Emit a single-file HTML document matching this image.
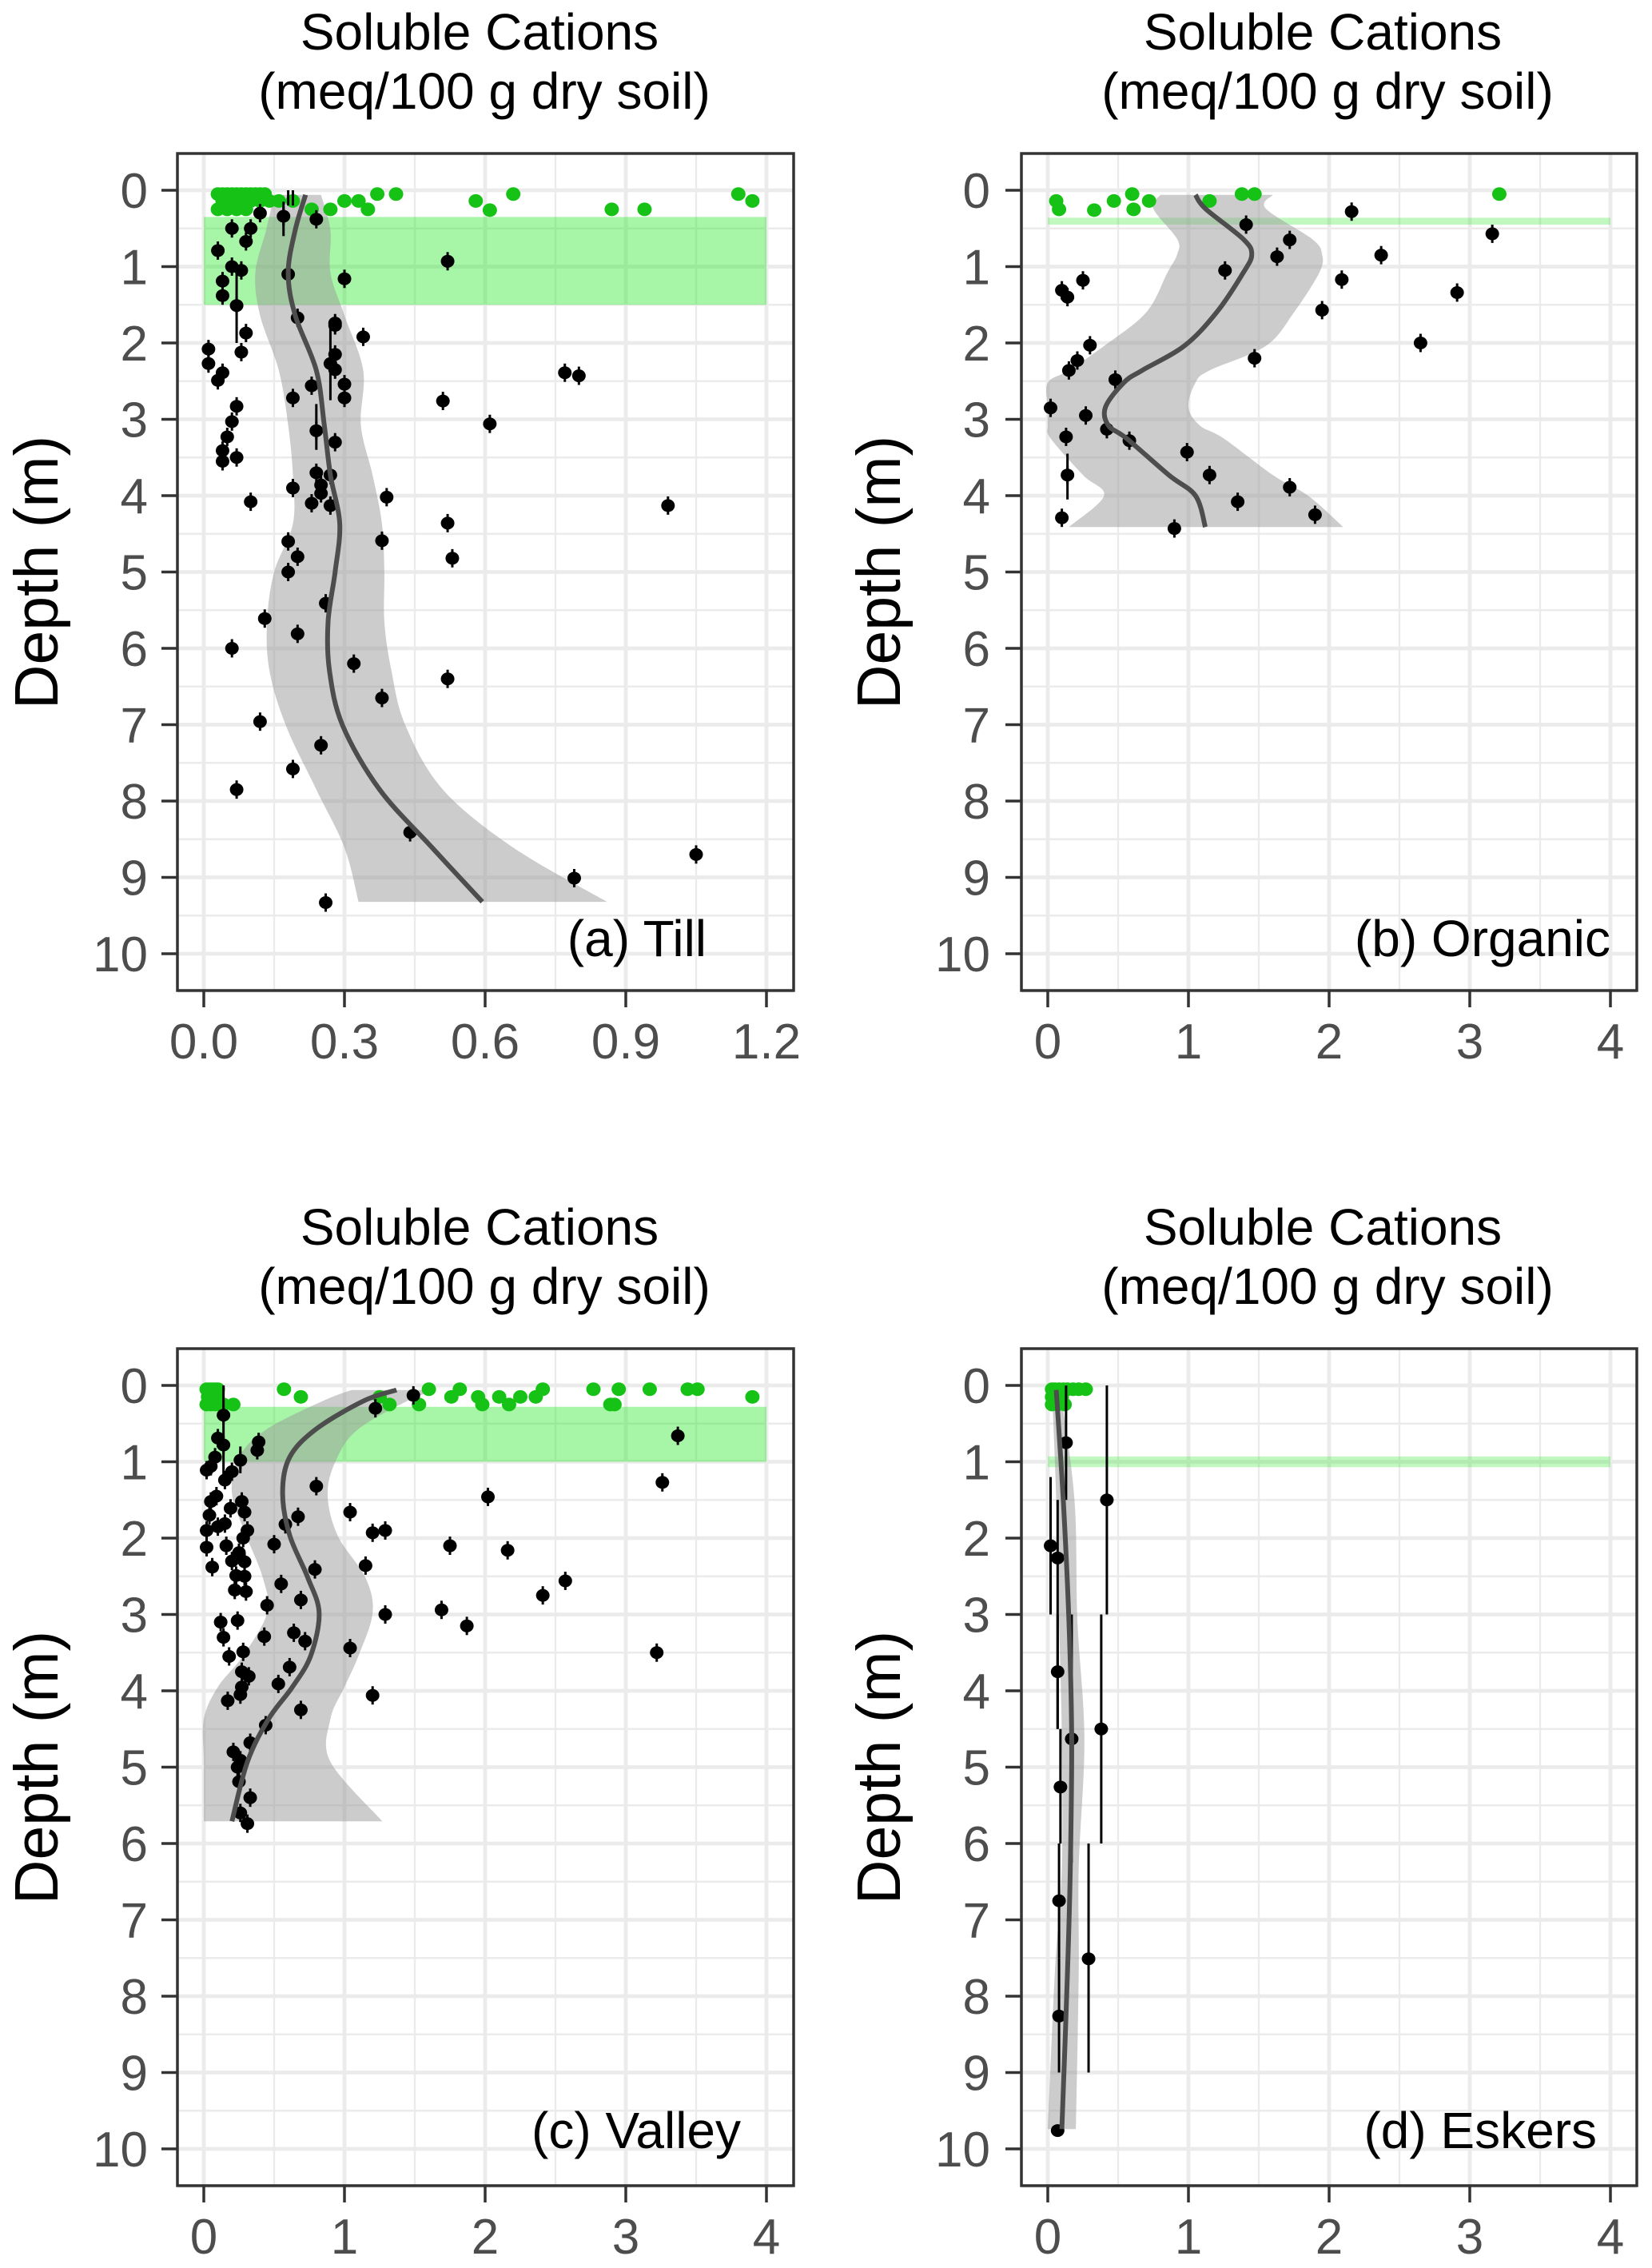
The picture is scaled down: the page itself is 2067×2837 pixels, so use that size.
<!DOCTYPE html>
<html><head><meta charset="utf-8"><style>
html,body{margin:0;padding:0;background:#fff;}
svg{display:block;font-family:"Liberation Sans",Arial,sans-serif;}
</style></head><body>
<svg id="fig" width="2067" height="2837" viewBox="0 0 2067 2837" xmlns="http://www.w3.org/2000/svg">
<rect width="2067" height="2837" fill="#fff"/>
</svg>
<script>
// ---------- Panel (a) Till ----------
const tillBlackX=[0.12,0.17,0.24,0.06,0.10,0.09,0.03,0.52,0.06,0.08,0.18,0.30,0.04,0.04,0.07,0.20,0.28,0.28,0.34,0.09,0.01,0.08,0.28,0.01,0.04,0.03,0.27,0.28,0.30,0.23,0.77,0.80,0.19,0.30,0.51,0.07,0.06,0.61,0.24,0.28,0.05,0.04,0.07,0.04,0.24,0.27,0.25,0.19,0.39,0.25,0.23,0.27,0.10,0.99,0.52,0.18,0.38,0.20,0.53,0.18,0.26,0.13,0.20,0.06,0.32,0.52,0.38,0.12,0.25,0.19,0.07,0.44,1.05,0.79,0.26];
const tillBlackDepth=[0.30,0.34,0.38,0.50,0.50,0.67,0.79,0.93,1.00,1.05,1.10,1.16,1.19,1.38,1.51,1.67,1.74,1.77,1.92,1.87,2.08,2.12,2.15,2.27,2.39,2.49,2.27,2.35,2.54,2.56,2.39,2.43,2.72,2.72,2.76,2.83,3.03,3.06,3.15,3.30,3.23,3.41,3.50,3.55,3.70,3.73,3.86,3.90,4.02,3.97,4.10,4.13,4.08,4.13,4.36,4.60,4.59,4.80,4.82,5.00,5.41,5.61,5.81,6.00,6.20,6.40,6.65,6.96,7.27,7.58,7.85,8.41,8.70,9.01,9.33];
const tillGreenX=[0.03,0.04,0.05,0.06,0.07,0.08,0.09,0.10,0.11,0.12,0.13,0.04,0.06,0.08,0.10,0.12,0.14,0.03,0.05,0.07,0.09,0.16,0.19,0.23,0.27,0.30,0.33,0.35,0.37,0.41,0.58,0.61,0.66,0.87,0.94,1.14,1.17];
const tillGreenDepth=[0.05,0.05,0.05,0.05,0.05,0.05,0.05,0.05,0.05,0.05,0.05,0.14,0.14,0.14,0.14,0.14,0.14,0.25,0.25,0.25,0.25,0.14,0.14,0.25,0.25,0.14,0.14,0.25,0.05,0.05,0.14,0.26,0.05,0.25,0.25,0.05,0.14];
const tillBarX=[0.07,0.27,0.24,0.17,0.19,0.18];
const tillBarLo=[1.0,1.8,2.8,0.15,0.0,0.0];
const tillBarHi=[2.0,2.75,3.4,0.6,0.2,0.2];
const tillFitDepth=[0.06,0.52,1.08,1.64,2.36,3.08,3.73,4.37,5.0,5.65,6.29,7.01,7.85,8.61,9.32];
const tillFitX=[0.217,0.195,0.18,0.195,0.24,0.257,0.27,0.29,0.28,0.265,0.268,0.296,0.375,0.487,0.594];
const tillFitLo=[0.15,0.133,0.11,0.12,0.16,0.18,0.19,0.19,0.15,0.135,0.14,0.175,0.24,0.30,0.33];
const tillFitHi=[0.25,0.27,0.27,0.30,0.34,0.335,0.36,0.38,0.385,0.385,0.40,0.43,0.51,0.66,0.86];
const tillBand=[0.35,1.5];
const tillTicks=[0,0.3,0.6,0.9,1.2];
const tillTickLabels=["0.0","0.3","0.6","0.9","1.2"];

// ---------- Panel (b) Organic ----------
const orgBlackX=[2.16,1.41,3.16,1.72,2.37,1.63,1.26,0.25,2.09,0.10,0.14,2.91,1.95,0.30,2.65,0.21,1.47,0.15,0.48,0.02,0.27,0.42,0.13,0.58,0.99,0.14,1.15,1.72,1.35,1.90,0.10,0.90];
const orgBlackDepth=[0.28,0.45,0.57,0.65,0.85,0.87,1.05,1.18,1.17,1.31,1.40,1.34,1.57,2.03,2.00,2.23,2.20,2.36,2.48,2.85,2.95,3.13,3.23,3.28,3.43,3.73,3.73,3.89,4.08,4.25,4.29,4.43];
const orgGreenX=[0.06,0.08,0.33,0.47,0.60,0.61,0.72,1.15,1.38,1.47,3.21];
const orgGreenDepth=[0.14,0.25,0.26,0.14,0.05,0.25,0.14,0.14,0.05,0.05,0.05];
const orgBarX=[0.14];
const orgBarLo=[3.45];
const orgBarHi=[4.05];
const orgFitDepth=[0.06,0.24,0.64,0.84,1.08,1.6,2.04,2.36,2.52,2.84,3.08,3.25,3.73,4.0,4.41];
const orgFitX=[1.05,1.12,1.39,1.45,1.39,1.20,0.97,0.67,0.54,0.41,0.43,0.56,0.86,1.05,1.12];
const orgFitLo=[0.80,0.75,0.92,0.92,0.85,0.70,0.40,0.15,0.0,0.0,0.0,0.02,0.25,0.40,0.15];
const orgFitHi=[1.60,1.55,1.88,1.95,1.93,1.75,1.55,1.15,1.05,1.0,1.08,1.25,1.6,1.85,2.10];
const orgBand=[0.36,0.45];
const fourTicks=[0,1,2,3,4];
const fourTickLabels=["0","1","2","3","4"];

// ---------- Panel (c) Valley ----------
const valBlackX=[1.49,1.22,0.14,3.37,0.10,0.14,0.39,0.38,0.08,0.26,0.02,0.05,3.26,0.15,0.20,0.80,2.02,0.09,0.05,0.27,0.19,0.29,1.04,0.67,0.04,0.15,0.10,0.02,0.58,0.31,1.20,1.29,0.28,0.16,0.50,1.75,0.02,2.16,0.20,0.29,0.25,0.06,1.15,0.79,0.23,0.29,2.57,0.55,0.22,0.30,2.41,0.69,0.45,1.69,1.29,0.24,0.12,1.87,0.64,0.43,0.14,0.72,1.04,3.22,0.28,0.18,0.61,0.27,0.32,0.53,0.27,0.26,1.20,0.17,0.69,0.44,0.33,0.21,0.26,0.24,0.25,0.33,0.26,0.31];
const valBlackDepth=[0.13,0.30,0.39,0.66,0.69,0.78,0.74,0.85,0.94,0.98,1.11,1.06,1.27,1.24,1.13,1.32,1.46,1.45,1.52,1.52,1.61,1.66,1.66,1.72,1.70,1.81,1.85,1.90,1.82,1.90,1.93,1.90,2.00,2.10,2.08,2.10,2.12,2.16,2.30,2.31,2.19,2.38,2.36,2.41,2.49,2.50,2.56,2.60,2.68,2.70,2.75,2.81,2.88,2.94,3.00,3.08,3.10,3.15,3.24,3.29,3.30,3.35,3.44,3.50,3.49,3.55,3.69,3.75,3.81,3.91,3.95,4.05,4.06,4.13,4.25,4.45,4.68,4.80,4.91,5.00,5.19,5.40,5.60,5.74];
const valGreenX=[0.02,0.04,0.06,0.08,0.10,0.03,0.05,0.07,0.09,0.02,0.05,0.08,0.11,0.14,0.57,0.69,1.25,1.32,1.53,1.60,1.76,1.82,1.95,1.98,2.10,2.17,2.25,2.36,2.41,2.77,2.89,2.92,2.95,3.17,3.44,3.51,3.90,0.21];
const valGreenDepth=[0.05,0.05,0.05,0.05,0.05,0.15,0.15,0.15,0.15,0.25,0.25,0.25,0.25,0.25,0.05,0.15,0.15,0.25,0.25,0.05,0.15,0.05,0.15,0.25,0.15,0.25,0.15,0.15,0.05,0.05,0.25,0.25,0.05,0.05,0.05,0.05,0.15,0.25];
const valBarX=[0.14,0.26];
const valBarLo=[0.0,0.8];
const valBarHi=[1.3,1.15];
const valFitDepth=[0.06,0.2,0.57,0.94,1.41,1.96,2.52,2.98,3.54,3.95,4.37,4.93,5.71];
const valFitX=[1.37,1.14,0.80,0.61,0.56,0.61,0.74,0.82,0.76,0.63,0.46,0.31,0.20];
const valFitLo=[1.05,0.85,0.45,0.25,0.20,0.30,0.42,0.45,0.28,0.10,0.0,0.0,0.0];
const valFitHi=[1.65,1.45,1.10,0.95,0.88,0.95,1.15,1.20,1.10,1.0,0.90,0.90,1.27];
const valBand=[0.28,1.0];

// ---------- Panel (d) Eskers ----------
const eskBlackX=[0.13,0.42,0.02,0.07,0.07,0.17,0.38,0.09,0.08,0.29,0.08,0.07];
const eskBlackDepth=[0.75,1.5,2.1,2.26,3.75,4.63,4.5,5.26,6.75,7.51,8.26,9.76];
const eskBarLo=[0,0,1.2,1.5,3.0,3.0,3.0,4.5,6.0,6.0,7.5,9.7];
const eskBarHi=[1.5,3.0,3.0,4.5,4.5,6.25,6.0,6.0,7.5,9.0,9.0,9.8];
const eskGreenX=[0.03,0.05,0.08,0.11,0.14,0.18,0.22,0.27,0.03,0.06,0.10,0.03,0.07,0.12];
const eskGreenDepth=[0.05,0.05,0.05,0.05,0.05,0.05,0.05,0.05,0.15,0.15,0.15,0.25,0.25,0.25];
const eskFitDepth=[0.06,1.5,3.07,4.63,6.31,7.7,9.74];
const eskFitX=[0.06,0.11,0.15,0.17,0.16,0.14,0.10];
const eskFitLo=[0.03,0.06,0.08,0.10,0.10,0.05,0.0];
const eskFitHi=[0.09,0.19,0.21,0.26,0.22,0.22,0.20];
const eskBand=[0.93,1.07];

const depthTicks=[0,1,2,3,4,5,6,7,8,9,10];

const NS="http://www.w3.org/2000/svg";
const svg=document.getElementById('fig');
function mk(tag,attrs,parent){const e=document.createElementNS(NS,tag);for(const k in attrs)e.setAttribute(k,attrs[k]);(parent||svg).appendChild(e);return e;}

// Catmull-Rom smooth path through points
function smoothPath(pts,start){
  let d=(start?'M':'L')+pts[0][0].toFixed(1)+','+pts[0][1].toFixed(1);
  for(let i=0;i<pts.length-1;i++){
    const p0=pts[Math.max(0,i-1)],p1=pts[i],p2=pts[i+1],p3=pts[Math.min(pts.length-1,i+2)];
    const c1=[p1[0]+(p2[0]-p0[0])/6,p1[1]+(p2[1]-p0[1])/6];
    const c2=[p2[0]-(p3[0]-p1[0])/6,p2[1]-(p3[1]-p1[1])/6];
    d+='C'+c1[0].toFixed(1)+','+c1[1].toFixed(1)+' '+c2[0].toFixed(1)+','+c2[1].toFixed(1)+' '+p2[0].toFixed(1)+','+p2[1].toFixed(1);
  }
  return d;
}

const PXM=95.5;
function drawPanel(p){
  const g=mk('g',{});
  
  
  const sx=v=>p.x0+(v-p.xmin)/(p.xmax-p.xmin)*(p.x1-p.x0);
  const sy=d=>p.y0+d*PXM;
  const t1=mk('text',{x:p.tx,y:p.top+62,'text-anchor':'middle','font-size':64,fill:'#000'},g);
  t1.textContent='Soluble Cations';
  
  
  const t2=mk('text',{x:p.tx+6,y:p.top+136,'text-anchor':'middle','font-size':64,fill:'#000'},g);
  t2.textContent='(meq/100 g dry soil)';
  
  
  const bt=p.top+192, bb=p.top+1239;
  const grid=mk('g',{},g);
  
  
  for(let i=0;i<p.ticks.length-1;i++){const v=(p.ticks[i]+p.ticks[i+1])/2;mk('line',{x1:sx(v),x2:sx(v),y1:bt,y2:bb,stroke:'#ebebeb','stroke-width':2.4},grid);}
  for(let d=0.5;d<=10.5;d+=1){mk('line',{x1:p.bl,x2:p.br,y1:sy(d),y2:sy(d),stroke:'#ebebeb','stroke-width':2.4},grid);}
  p.ticks.forEach(v=>mk('line',{x1:sx(v),x2:sx(v),y1:bt,y2:bb,stroke:'#ebebeb','stroke-width':4.8},grid));
  depthTicks.forEach(d=>mk('line',{x1:p.bl,x2:p.br,y1:sy(d),y2:sy(d),stroke:'#ebebeb','stroke-width':4.8},grid));
  const band=mk('rect',{x:sx(p.xmin),y:sy(p.band[0]),width:sx(p.xmax)-sx(p.xmin),height:sy(p.band[1])-sy(p.band[0]),fill:'#2ee82e','fill-opacity':p.bandOp},g);
  
  
  const loPts=p.fitD.map((d,i)=>[sx(p.fitLo[i]),sy(d)]);
  const hiPts=p.fitD.map((d,i)=>[sx(p.fitHi[i]),sy(d)]).reverse();
  const rib=mk('path',{d:smoothPath(loPts,true)+smoothPath(hiPts,false)+'Z',fill:'#999','fill-opacity':0.5},g);
  
  
  p.gx.forEach((v,i)=>{const c=mk('ellipse',{cx:sx(v),cy:sy(p.gd[i]),rx:9,ry:8.5,fill:'#17c217'},g);
    
    });
  p.barX.forEach((v,i)=>{const l=mk('line',{x1:sx(v),x2:sx(v),y1:sy(p.barLo[i]),y2:sy(p.barHi[i]),stroke:'#000','stroke-width':3},g);
    
    });
  p.bx.forEach((v,i)=>{
    if(p.small){const l=mk('line',{x1:sx(v),x2:sx(v),y1:sy(p.bd[i]-0.12),y2:sy(p.bd[i]+0.12),stroke:'#000','stroke-width':3},g);
      
      }
    const c=mk('ellipse',{cx:sx(v),cy:sy(p.bd[i]),rx:8.5,ry:8,fill:'#000'},g);
    
    });
  const fitPts=p.fitD.map((d,i)=>[sx(p.fitX[i]),sy(d)]);
  const ln=mk('path',{d:smoothPath(fitPts,true),fill:'none',stroke:'#4d4d4d','stroke-width':6,'stroke-linejoin':'round'},g);
  
  
  const br=mk('rect',{x:p.bl,y:bt,width:p.br-p.bl,height:bb-bt,fill:'none',stroke:'#333','stroke-width':3.5},g);
  
  
  depthTicks.forEach(d=>{mk('line',{x1:p.bl-20,x2:p.bl,y1:sy(d),y2:sy(d),stroke:'#333','stroke-width':3.5},g);
    const t=mk('text',{x:p.ylx,y:sy(d)+22,'text-anchor':'end','font-size':62,fill:'#4d4d4d'},g);
    t.textContent=String(d);
    
    });
  p.ticks.forEach((v,i)=>{mk('line',{x1:sx(v),x2:sx(v),y1:bb,y2:bb+21,stroke:'#333','stroke-width':3.5},g);
    const t=mk('text',{x:sx(v),y:bb+85,'text-anchor':'middle','font-size':62,fill:'#4d4d4d'},g);
    t.textContent=p.tickLabels[i];
    
    });
  const yt=mk('text',{x:0,y:0,'text-anchor':'middle','font-size':77,fill:'#000',transform:`translate(${p.ytx},${p.top+716}) rotate(-90)`},g);
  yt.textContent='Depth (m)';
  
  
  const pl=mk('text',{x:p.labX,y:p.top+p.labY,'text-anchor':'end','font-size':64,fill:'#000'},g);
  pl.textContent=p.label;
  
  
}

const L={bl:222,br:993,x0:255,x1:959,tx:600,ytx:72,ylx:185};
const R={bl:1278,br:2048,x0:1311,x1:2015,tx:1655,ytx:1126,ylx:1239};
drawPanel(Object.assign({},L,{name:'panel-a-till',top:0,y0:238,xmin:0,xmax:1.2,ticks:tillTicks,tickLabels:tillTickLabels,
  bx:tillBlackX,bd:tillBlackDepth,gx:tillGreenX,gd:tillGreenDepth,barX:tillBarX,barLo:tillBarLo,barHi:tillBarHi,small:true,
  fitD:tillFitDepth,fitX:tillFitX,fitLo:tillFitLo,fitHi:tillFitHi,band:tillBand,bandOp:0.42,label:'(a) Till',labX:884,labY:1196}));
drawPanel(Object.assign({},R,{name:'panel-b-organic',top:0,y0:238,xmin:0,xmax:4,ticks:fourTicks,tickLabels:fourTickLabels,
  bx:orgBlackX,bd:orgBlackDepth,gx:orgGreenX,gd:orgGreenDepth,barX:orgBarX,barLo:orgBarLo,barHi:orgBarHi,small:true,
  fitD:orgFitDepth,fitX:orgFitX,fitLo:orgFitLo,fitHi:orgFitHi,band:orgBand,bandOp:0.3,label:'(b) Organic',labX:2015,labY:1196}));
drawPanel(Object.assign({},L,{name:'panel-c-valley',top:1495,y0:1733,xmin:0,xmax:4,ticks:fourTicks,tickLabels:fourTickLabels,
  bx:valBlackX,bd:valBlackDepth,gx:valGreenX,gd:valGreenDepth,barX:valBarX,barLo:valBarLo,barHi:valBarHi,small:true,
  fitD:valFitDepth,fitX:valFitX,fitLo:valFitLo,fitHi:valFitHi,band:valBand,bandOp:0.42,label:'(c) Valley',labX:927,labY:1192}));
drawPanel(Object.assign({},R,{name:'panel-d-eskers',top:1495,y0:1733,xmin:0,xmax:4,ticks:fourTicks,tickLabels:fourTickLabels,
  bx:eskBlackX,bd:eskBlackDepth,gx:eskGreenX,gd:eskGreenDepth,barX:eskBlackX,barLo:eskBarLo,barHi:eskBarHi,small:false,
  fitD:eskFitDepth,fitX:eskFitX,fitLo:eskFitLo,fitHi:eskFitHi,band:eskBand,bandOp:0.3,label:'(d) Eskers',labX:1998,labY:1192}));
</script>
</body></html>
